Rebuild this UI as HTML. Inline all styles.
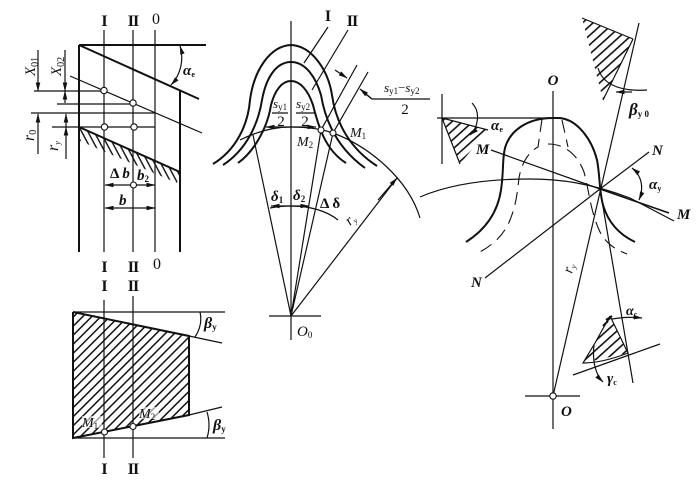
<!DOCTYPE html>
<html><head><meta charset="utf-8"><style>
html,body{margin:0;padding:0;background:#fff;width:700px;height:488px;overflow:hidden}
svg{display:block}
text{font-family:"Liberation Serif",serif;fill:#111}
.i{font-style:italic}
.b{font-weight:bold}
.n{font-weight:bold;font-size:16px;text-anchor:middle}
.t{fill:none;stroke:#111;stroke-width:1.2}
.k{fill:none;stroke:#111;stroke-width:2}
.d{fill:none;stroke:#111;stroke-width:1.1;stroke-dasharray:13 7}
circle{fill:#fff;stroke:#111;stroke-width:1.1}
</style></head><body>
<svg width="700" height="488" viewBox="0 0 700 488" xmlns="http://www.w3.org/2000/svg">
<defs>
<marker id="a" markerWidth="9" markerHeight="6" refX="8.5" refY="3" orient="auto-start-reverse" markerUnits="userSpaceOnUse"><path d="M0 .7L9 3L0 5.300z" fill="#111"/></marker>
<pattern id="h2" width="6.4" height="6.4" patternUnits="userSpaceOnUse" patternTransform="rotate(-45)"><rect x="0" y="0" width="6.4" height="1.5" fill="#111"/></pattern>
<pattern id="h3" width="7" height="7" patternUnits="userSpaceOnUse" patternTransform="rotate(-42)"><rect x="0" y="0" width="7" height="1.6" fill="#111"/></pattern>
<pattern id="h4" width="5.500" height="5.500" patternUnits="userSpaceOnUse" patternTransform="rotate(62)"><rect x="0" y="0" width="5.500" height="1.4" fill="#111"/></pattern>
</defs>

<!-- top-left -->
<g>
<path class="k" d="M79 45V252M79 45H206M79 45L199 99M79 127L180 172M180 90V252"/>
<path class="t" d="M104 30V252M133 30V252M155 30V252M70 76L202 133M34 91H104M57 104H133M31 113H155M52 127H155"/>
<path d="M79 127L180 172L177 183L78 140z" fill="url(#h4)"/>
<path class="t" d="M38 50V91" marker-end="url(#a)"/>
<path class="t" d="M65 50V91" marker-end="url(#a)"/>
<path class="t" d="M65 91V103" marker-start="url(#a)"/>
<path class="t" d="M38 154V114" marker-end="url(#a)"/>
<path class="t" d="M66 114V127" marker-start="url(#a)"/>
<path class="t" d="M66 159V127" marker-end="url(#a)"/>
<path class="t" d="M105 185H155" marker-start="url(#a)" marker-end="url(#a)"/>
<path class="t" d="M105 208H155" marker-start="url(#a)" marker-end="url(#a)"/>
<path class="t" d="M180 46A40 40 0 0 1 171 85" marker-start="url(#a)" marker-end="url(#a)"/>
<circle cx="104" cy="90.500" r="3.2"/><circle cx="133" cy="103" r="3.2"/><circle cx="104.500" cy="127" r="3.2"/><circle cx="134" cy="127" r="3.2"/><circle cx="133.500" cy="185" r="3"/>
<text x="104.500" y="26" class="n">I</text><text x="133" y="26" class="n" letter-spacing="-1">II</text><text x="156" y="24" class="n" style="font-weight:normal">0</text>
<text x="104.500" y="272" class="n">I</text><text x="133" y="272" class="n" letter-spacing="-1">II</text><text x="157" y="269" class="n" style="font-weight:normal">0</text>
<text transform="translate(35 76) rotate(-90)" font-size="15" class="i">X<tspan font-size="10" dy="3" font-style="normal">01</tspan></text>
<text transform="translate(61 76) rotate(-90)" font-size="15" class="i">X<tspan font-size="10" dy="3" font-style="normal">02</tspan></text>
<text transform="translate(34 141) rotate(-90)" font-size="16" class="i">r<tspan font-size="10" dy="2" font-style="normal">0</tspan></text>
<text transform="translate(58 151) rotate(-90)" font-size="16" class="i">r<tspan font-size="8" dy="2">y</tspan></text>
<text x="110" y="178" font-size="15" class="b">Δ <tspan class="i">b</tspan></text>
<text x="137" y="180" font-size="15" class="i b">b<tspan font-size="9" dy="2" font-style="normal">2</tspan></text>
<text x="119" y="205" font-size="15" class="i b">b</text>
<text x="183" y="75" font-size="15" class="i b">α<tspan font-size="8" dy="2" font-style="normal">e</tspan></text>
</g>

<!-- bottom-left -->
<g>
<path d="M73 312L189 336V415L73 438z" fill="url(#h2)"/>
<path class="k" d="M73 312V438L189 415V336L73 312"/>
<path class="t" d="M73 312H225M189 336L222 343M73 438H225M189 415L222 407M104 300V458M133 296V458"/>
<path class="t" d="M200 312Q203 325 195 337M207 412Q211 425 207 438"/>
<circle cx="104.500" cy="432" r="3"/><circle cx="133" cy="426.500" r="3"/>
<text x="104.500" y="291" class="n">I</text><text x="133" y="291" class="n" letter-spacing="-1">II</text>
<text x="104.500" y="474" class="n">I</text><text x="133" y="474" class="n" letter-spacing="-1">II</text>
<rect x="82" y="416" width="20" height="12" fill="#fff" opacity=".6"/><rect x="139" y="407" width="20" height="12" fill="#fff" opacity=".6"/>
<text x="82" y="427" font-size="14" class="i">M<tspan font-size="9" dy="2" font-style="normal">1</tspan></text>
<text x="139" y="418" font-size="14" class="i">M<tspan font-size="9" dy="2" font-style="normal">2</tspan></text>
<text x="204" y="328" font-size="16" class="i b">β<tspan font-size="9" dy="2" font-style="normal">y</tspan></text>
<text x="213" y="430" font-size="16" class="i b">β<tspan font-size="9" dy="2" font-style="normal">y</tspan></text>
</g>

<!-- middle -->
<g>
<path class="t" d="M291 21V340M269 316H321M291 316L253 135M291 316L321 130M291 316L333 133M291 316L397 178M321 130L357 65M333 133L368 72"/>
<path class="t" d="M397 178L378 200" marker-start="url(#a)"/>
<path class="k" d="M213 164C236 150 248 125 250 100C254 70 270 46 291 45C312 46 328 70 332 95C336 125 352 150 377 166"/>
<path class="k" d="M223 165C246 150 258 125 262 100C266 78 276 62 291 62C306 62 316 78 321 95C326 125 340 150 365 168"/>
<path class="k" d="M238 163C256 150 268 125 271 105C275 90 282 81 291 81C300 81 308 90 313 105C318 125 325 150 346 163"/>
<path class="t" d="M240 140C258 131 275 127 291 127C310 127 322 129 333 133C368 146 408 178 420 218"/>
<path class="t" d="M270 208C280 206 285 206 291 206C310 206 327 211 338 220"/>
<path class="t" d="M304 63L328 27M312 90L348 30M372 99H430"/>
<path class="t" d="M335 70L347 78" marker-end="url(#a)"/>
<path class="t" d="M372 99L363 92" />
<path class="t" d="M372 99L360 89" marker-end="url(#a)"/>
<path class="t" d="M272 113H288M296 113H316"/>
<path class="t" d="M291 127H266" marker-end="url(#a)"/><path class="t" d="M291 127H316" marker-end="url(#a)"/>
<path class="t" d="M291 206H271" marker-end="url(#a)"/><path class="t" d="M291 206H309" marker-end="url(#a)"/>
<circle cx="321" cy="130" r="3"/><circle cx="333" cy="133" r="3"/>
<text x="328" y="21" class="n">I</text>
<text x="352" y="26" class="n" letter-spacing="-1">II</text>
<text x="273" y="108" font-size="13" class="i">s<tspan font-size="9" dy="2" font-style="normal">y1</tspan></text>
<text x="296" y="108" font-size="13" class="i">s<tspan font-size="9" dy="2" font-style="normal">y2</tspan></text>
<text x="281" y="126" font-size="15" text-anchor="middle">2</text>
<text x="305" y="126" font-size="15" text-anchor="middle">2</text>
<text x="384" y="92" font-size="13" class="i">s<tspan font-size="9" dy="2" font-style="normal">y1</tspan><tspan dy="-2" font-style="normal">−</tspan>s<tspan font-size="9" dy="2" font-style="normal">y2</tspan></text>
<text x="405" y="114" font-size="15" text-anchor="middle">2</text>
<text x="297" y="146" font-size="14" class="i">M<tspan font-size="9" dy="2" font-style="normal">2</tspan></text>
<text x="350" y="137" font-size="14" class="i">M<tspan font-size="9" dy="2" font-style="normal">1</tspan></text>
<text x="271" y="201" font-size="15" class="i b">δ<tspan font-size="9" dy="2" font-style="normal">1</tspan></text>
<text x="293" y="200" font-size="15" class="i b">δ<tspan font-size="9" dy="2" font-style="normal">2</tspan></text>
<text x="320" y="208" font-size="15" class="b">Δ δ</text>
<text transform="translate(350 226) rotate(-42)" font-size="15" class="i">r<tspan font-size="8" dy="2">y</tspan></text>
<text x="297" y="336" font-size="15" class="i">O<tspan font-size="9" dy="2" font-style="normal">0</tspan></text>
</g>

<!-- right -->
<g>
<path class="t" d="M553 91V429M525 396H580M437 118H553M442 94V164"/>
<path d="M442 118L488 130L460 164z" fill="url(#h3)"/>
<path class="t" d="M442 118L488 130M442 118L460 164"/>
<path d="M582 18L633 39L603 100z" fill="url(#h3)"/>
<path class="t" d="M582 18L633 39"/>
<path class="t" d="M639 23L553 396M633 39L603 100M491 150L600 189M600 189L485 278M600 189L649 152M600 189L633 383M573 375L660 344"/>
<path class="t" d="M600 189L669 213" style="stroke-width:1.5"/>
<path class="k" d="M466 242C488 228 498 210 501 190C504 170 502 160 505 148C510 130 528 118 553 118H560C578 120 592 140 597 160C600 175 599 190 603 205C608 222 618 234 635 242"/>
<path class="t" d="M420 197C450 184 490 179 530 179C560 179 590 183 630 198L674 221"/>
<path class="d" d="M542 119L538 147C528 152 521 165 519 178C517 195 516 205 510 220C505 232 497 243 478 253"/>
<path class="d" d="M562 120L568 147M548 144C566 144 578 156 584 172C590 195 590 210 600 232C607 245 617 250 627 254"/>
<path class="t" d="M472 103C481 112 478 128 470 135" marker-end="url(#a)"/>
<path class="t" d="M598 68C602 82 616 92 647 90"/>
<path class="t" d="M632 92L616 92" marker-end="url(#a)"/>
<path class="t" d="M632 168C642 176 644 188 639 200" marker-start="url(#a)" marker-end="url(#a)"/>
<path d="M610 316L628 353L583 363L595 343z" fill="url(#h3)"/>
<path class="t" d="M610 316L628 353C610 360 596 363 583 363L595 343L610 316"/>
<path class="k" d="M606 320L612 316M608 321L603 326"/>
<path class="t" d="M612 319C625 317 632 317 642 318" marker-end="url(#a)"/>
<path class="t" d="M594 345C592 362 596 375 603 382" marker-end="url(#a)"/>
<circle cx="553" cy="396" r="3.2"/>
<text x="553" y="85" font-size="15" class="i b" text-anchor="middle">O</text>
<text x="491" y="130" font-size="15" class="i b">α<tspan font-size="8" dy="2" font-style="normal">e</tspan></text>
<text x="476" y="154" font-size="15" class="i b">M</text>
<text x="652" y="155" font-size="15" class="i b">N</text>
<text x="649" y="189" font-size="15" class="i b">α<tspan font-size="8" dy="2" font-style="normal">y</tspan></text>
<text x="677" y="219" font-size="15" class="i b">M</text>
<text x="629" y="115" font-size="17" class="i b">β<tspan font-size="9" dy="2" font-style="normal">y 0</tspan></text>
<text x="471" y="287" font-size="15" class="i b">N</text>
<text transform="translate(572 274) rotate(-75)" font-size="15" class="i">r<tspan font-size="8" dy="2">y</tspan></text>
<text x="626" y="315" font-size="14" class="i b">α<tspan font-size="8" dy="2" font-style="normal">c</tspan></text>
<text x="607" y="383" font-size="15" class="i b">γ<tspan font-size="8" dy="2" font-style="normal">c</tspan></text>
<text x="561" y="416" font-size="15" class="i b">O</text>
</g>
</svg>
</body></html>
